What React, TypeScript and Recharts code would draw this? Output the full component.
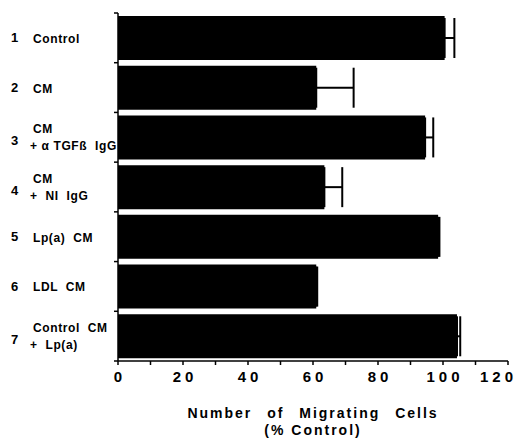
import { BarChart, Bar, XAxis, YAxis, ErrorBar, Label } from 'recharts';

const rowNumbers = ['1', '2', '3', '4', '5', '6', '7'];
const categoryLabels = [
  'Control',
  'CM',
  'CM\n+ α TGFß  IgG',
  'CM\n+  NI  IgG',
  'Lp(a)  CM',
  'LDL  CM',
  'Control  CM\n+  Lp(a)',
];
const migration = [100.5, 61, 94.5, 63.5, 98.5, 61, 104.3];
const sem = [3, 11.5, 2.5, 5.5, 0.4, 0.3, 1];
const xTicks = [0, 10, 20, 30, 40, 50, 60, 70, 80, 90, 100, 110, 120];

const data = categoryLabels.map((label, i) => ({
  label,
  value: migration[i],
  err: [0, sem[i]],
}));

const font = '"Liberation Sans", Arial, sans-serif';
const PLOT_LEFT = 118;

function CategoryTick({ y, payload, index, visibleTicksCount }: any) {
  const lines = String(payload.value).split('\n');
  const num = rowNumbers[index ?? 0];
  const half = payload.offset || 24.85;
  const isLast = index === (visibleTicksCount ?? categoryLabels.length) - 1;
  const txt = { fontFamily: font, fontWeight: 700, fontSize: 12, fill: '#000', letterSpacing: 0.6 };
  return (
    <g>
      <line x1={PLOT_LEFT - 4} x2={PLOT_LEFT} y1={y - half} y2={y - half} stroke="#000" strokeWidth={1.5} />
      {isLast && <line x1={PLOT_LEFT - 4} x2={PLOT_LEFT} y1={y + half} y2={y + half} stroke="#000" strokeWidth={1.5} />}
      <text x={15} y={y + (lines.length > 1 ? 3 : 0)} textAnchor="middle" dominantBaseline="central" style={{ ...txt, fontSize: 13 }}>
        {num}
      </text>
      {lines.map((ln, i) => (
        <text
          key={i}
          x={i > 0 ? 30 : 33}
          y={y + (lines.length > 1 ? (i === 0 ? -8 : 9) : 1)}
          dominantBaseline="central"
          style={{ ...txt, whiteSpace: 'pre' }}
        >
          {ln}
        </text>
      ))}
    </g>
  );
}

function NumberTick({ x, y, payload }: any) {
  const v = payload.value as number;
  if (v % 20 !== 0) return <g />;
  const last = v === xTicks[xTicks.length - 1];
  return (
    <text
      x={last ? x + 9 : x + 2}
      y={y}
      dy="0.71em"
      textAnchor={last ? 'end' : 'middle'}
      style={{ fill: '#000', fontFamily: font, fontWeight: 700, fontSize: 15, letterSpacing: 4 }}
    >
      {String(v)}
    </text>
  );
}

function AxisTitle({ viewBox }: any) {
  const cx = viewBox.x + viewBox.width / 2;
  const style = { fontFamily: font, fontWeight: 700, fontSize: 14, fill: '#000', letterSpacing: 2 };
  return (
    <g>
      <text x={cx} y={viewBox.y + 57} textAnchor="middle" style={{ ...style, wordSpacing: 9 }}>
        Number of Migrating Cells
      </text>
      <text x={cx} y={viewBox.y + 74} textAnchor="middle" style={style}>
        (% Control)
      </text>
    </g>
  );
}

export default function App() {
  return (
    <div style={{ position: 'absolute', left: 0, top: 0, background: '#fff', width: 524, height: 439 }}>
      <BarChart
        width={524}
        height={439}
        data={data}
        layout="vertical"
        margin={{ top: 13, right: 16, bottom: 0, left: 0 }}
        barCategoryGap={3}
      >
        <XAxis
          type="number"
          domain={[0, 120]}
          ticks={xTicks}
          interval={0}
          tickSize={4}
          tickMargin={6}
          height={78}
          stroke="#000"
          strokeWidth={1.5}
          tick={<NumberTick />}
        >
          <Label content={<AxisTitle />} />
        </XAxis>
        <YAxis
          type="category"
          dataKey="label"
          width={PLOT_LEFT}
          stroke="#000"
          strokeWidth={1.5}
          tickLine={false}
          interval={0}
          tick={<CategoryTick />}
        />
        <Bar dataKey="value" fill="#000" isAnimationActive={false}>
          <ErrorBar dataKey="err" direction="x" width={20} stroke="#000" strokeWidth={2} />
        </Bar>
      </BarChart>
    </div>
  );
}
